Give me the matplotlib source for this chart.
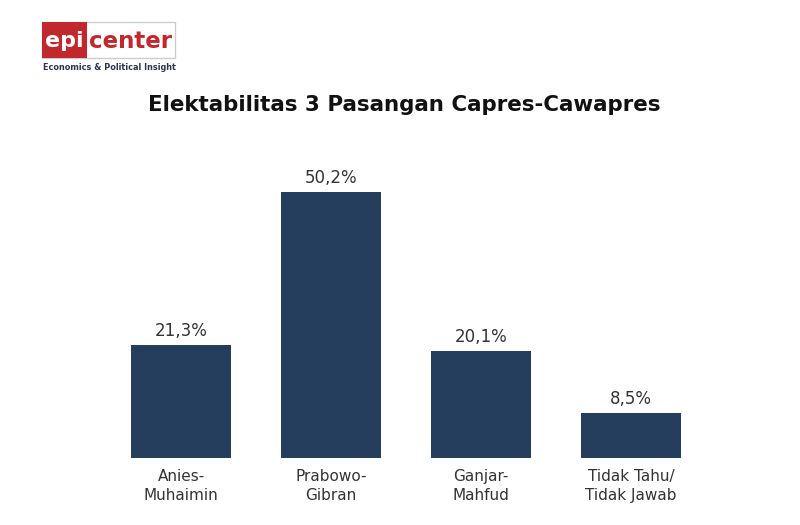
import matplotlib
matplotlib.use("Agg")
import matplotlib.pyplot as plt
from matplotlib.patches import Rectangle

plt.rcParams["font.family"] = ["DejaVu Sans"]

categories = ["Anies-\nMuhaimin", "Prabowo-\nGibran", "Ganjar-\nMahfud", "Tidak Tahu/\nTidak Jawab"]
values = [21.3, 50.2, 20.1, 8.5]
value_labels = ["21,3%", "50,2%", "20,1%", "8,5%"]
title = "Elektabilitas 3 Pasangan Capres-Cawapres"

bar_color = "#263e5e"
text_color = "#333333"

W, H = 800, 525
fig = plt.figure(figsize=(W / 100, H / 100), dpi=100)
fig.patch.set_facecolor("white")

ax = fig.add_axes([106 / W, (H - 458) / H, 600 / W, (458 - 150.6) / H])
x = list(range(len(categories)))
ax.bar(x, values, width=100 / 150, color=bar_color)
ax.set_xlim(-0.5, 3.5)
ax.set_ylim(0, 58)
for xi, v, lab in zip(x, values, value_labels):
    ax.text(xi, v + 1.0, lab, ha="center", va="bottom", fontsize=12, color=text_color)
ax.set_xticks(x)
ax.set_xticklabels(categories, fontsize=11, color=text_color, linespacing=1.35)
ax.tick_params(axis="x", length=0, pad=8)
ax.set_yticks([])
for s in ax.spines.values():
    s.set_visible(False)

fig.text(404 / W, 1 - 105 / H, title, ha="center", va="center", fontsize=15.4,
         fontweight="bold", color="#111111")

# logo
fig.patches.append(Rectangle((42 / W, 1 - 58 / H), 133 / W, 36 / H, transform=fig.transFigure,
                             facecolor="white", edgecolor="#cccccc", lw=1))
fig.patches.append(Rectangle((42 / W, 1 - 58 / H), 45 / W, 36 / H, transform=fig.transFigure,
                             facecolor="#c0282d", edgecolor="none"))
fig.text(64.5 / W, 1 - 41 / H, "epi", ha="center", va="center", fontsize=16, fontweight="bold",
         color="white")
fig.text(131 / W, 1 - 41 / H, "center", ha="center", va="center", fontsize=16.5, fontweight="bold",
         color="#c0282d")
fig.text(109 / W, 1 - 67 / H, "Economics & Political Insight", ha="center", va="center",
         fontsize=5.9, fontweight="bold", color="#2a3550")

fig.savefig("out.png", dpi=100, facecolor="white")
